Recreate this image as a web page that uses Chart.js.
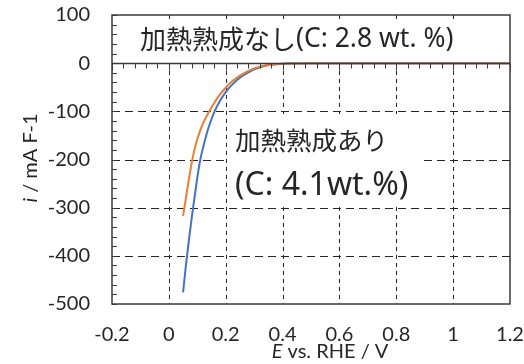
<!DOCTYPE html>
<html>
<head>
<meta charset="utf-8">
<script src="https://cdn.jsdelivr.net/npm/chart.js@4/dist/chart.umd.min.js"></script>
<style>
  html, body { margin: 0; padding: 0; background: #fff; }
  #wrap { width: 524px; height: 364px; }
</style>
</head>
<body>
<div id="wrap"><canvas id="graficoLSV"></canvas></div>
<script>
// potencial (V vs. RHE) e corrente (mA)
const potentials = [0.05, 0.06, 0.07, 0.08, 0.09, 0.10, 0.11, 0.12, 0.14, 0.16, 0.18, 0.20,
  0.22, 0.25, 0.28, 0.30, 0.33, 0.36, 0.40, 0.50, 0.60, 0.80, 1.00, 1.20];
const currentSemAging = [-317, -280, -243, -208, -180, -158, -140, -125, -102, -82, -65, -51,
  -39, -26, -16, -11, -6, -3, -1, 0, 0, 0, 0, 0];
const currentComAging = [-476, -420, -370, -323, -280, -238, -202, -176, -133, -101, -78, -60,
  -46, -30, -19, -13, -7, -3, -1, 0, 0, 0, 0, 0];

const xTicks = [-0.2, 0, 0.2, 0.4, 0.6, 0.8, 1, 1.2];
const yTicks = [-500, -400, -300, -200, -100, 0, 100];
const xGrid = [0, 0.2, 0.4, 0.6, 0.8, 1];
const yGrid = [-100, -200, -300, -400];

const ink = '#262626';
const jp = '"Noto Sans CJK JP", sans-serif';
const noto = '"Noto Sans", sans-serif';
const latin = 'Lato, "Noto Sans", sans-serif';

const toPoints = (ys) => potentials.map((x, i) => ({ x: x, y: ys[i] }));

// escreve partes com fontes diferentes em sequência
function drawRuns(ctx, runs, x, y) {
  runs.forEach(([text, font]) => {
    ctx.font = font;
    ctx.fillText(text, x, y);
    x += ctx.measureText(text).width;
  });
}

// grade tracejada, caixas de texto, moldura e marcas
const decor = {
  id: 'decor',
  beforeDatasetsDraw(chart) {
    const { ctx, chartArea: a, scales: { x, y } } = chart;
    ctx.save();
    ctx.strokeStyle = ink;
    ctx.lineWidth = 1;
    ctx.setLineDash([4, 4]);
    xGrid.forEach(v => {
      const px = Math.round(x.getPixelForValue(v)) + 0.5;
      ctx.beginPath(); ctx.moveTo(px, a.top); ctx.lineTo(px, a.bottom); ctx.stroke();
    });
    ctx.setLineDash([8, 5]);
    yGrid.forEach(v => {
      const py = Math.round(y.getPixelForValue(v)) + 0.5;
      ctx.beginPath(); ctx.moveTo(a.left, py); ctx.lineTo(a.right, py); ctx.stroke();
    });
    ctx.setLineDash([]);

    // caixas brancas por trás dos rótulos
    ctx.fillStyle = '#fff';
    ctx.fillRect(120, 20, 386, 40);
    ctx.fillRect(228, 114, 194, 91);

    ctx.fillStyle = ink;
    ctx.textBaseline = 'middle';
    ctx.textAlign = 'left';
    drawRuns(ctx, [['加熱熟成なし', '26px ' + jp], ['(C: 2.8 wt. %)', '26.5px ' + noto]], 140, 39);
    drawRuns(ctx, [['加熱熟成あり', '25.5px ' + jp]], 235, 140);
    drawRuns(ctx, [['(C: 4.1wt.%)', '32px ' + noto]], 235, 186);
    ctx.restore();
  },
  afterDatasetsDraw(chart) {
    const { ctx, chartArea: a, scales: { x, y } } = chart;
    ctx.save();
    ctx.strokeStyle = '#3a3a3a';
    ctx.lineWidth = 1.5;
    ctx.strokeRect(a.left, a.top, a.right - a.left, a.bottom - a.top);

    const y0 = Math.round(y.getPixelForValue(0)) + 0.5;
    ctx.beginPath(); ctx.moveTo(a.left, y0); ctx.lineTo(a.right, y0); ctx.stroke();

    ctx.lineWidth = 1;
    // marcas do eixo y (a cada 20)
    for (let v = -500; v <= 100; v += 20) {
      const py = Math.round(y.getPixelForValue(v)) + 0.5;
      ctx.beginPath(); ctx.moveTo(a.left, py); ctx.lineTo(a.left + 5, py); ctx.stroke();
    }
    // marcas do eixo x sobre a linha zero (a cada 0.04)
    for (let i = 0; i <= 35; i++) {
      const px = Math.round(x.getPixelForValue(-0.2 + i * 0.04)) + 0.5;
      const len = i % 5 === 0 ? 7 : 5;
      ctx.beginPath(); ctx.moveTo(px, y0); ctx.lineTo(px, y0 + len); ctx.stroke();
    }
    ctx.restore();
  },
  afterDraw(chart) {
    const { ctx } = chart;
    ctx.save();
    ctx.fillStyle = ink;
    ctx.textBaseline = 'middle';
    ctx.textAlign = 'left';
    const italic = 'italic 20px ' + latin;
    const normal = '20px ' + latin;

    // título do eixo x: "E vs. RHE / V"
    ctx.font = italic;
    let w = ctx.measureText('E').width;
    ctx.font = normal;
    w += ctx.measureText(' vs. RHE / V').width;
    drawRuns(ctx, [['E', italic], [' vs. RHE / V', normal]], 330 - w / 2, 352);

    // título do eixo y: "i / mA F-1"
    ctx.translate(31, 158);
    ctx.rotate(-Math.PI / 2);
    ctx.font = italic;
    w = ctx.measureText('i').width;
    ctx.font = normal;
    w += ctx.measureText(' / mA F-1').width;
    drawRuns(ctx, [['i', italic], [' / mA F-1', normal]], -w / 2, 0);
    ctx.restore();
  }
};

const ctxLSV = document.getElementById('graficoLSV').getContext('2d');
new Chart(ctxLSV, {
  type: 'scatter',
  data: {
    datasets: [{
      label: '加熱熟成なし',
      data: toPoints(currentSemAging),
      showLine: true,
      borderColor: '#ED7D31',
      borderWidth: 2,
      pointRadius: 0,
      cubicInterpolationMode: 'monotone'
    }, {
      label: '加熱熟成あり',
      data: toPoints(currentComAging),
      showLine: true,
      borderColor: '#4472C4',
      borderWidth: 2,
      pointRadius: 0,
      cubicInterpolationMode: 'monotone'
    }]
  },
  options: {
    responsive: true,
    maintainAspectRatio: false,
    animation: false,
    layout: { padding: { top: 15, right: 14, left: 0, bottom: 0 } },
    plugins: { legend: { display: false }, tooltip: { enabled: false } },
    scales: {
      x: {
        type: 'linear',
        min: -0.2, max: 1.2,
        afterBuildTicks: (s) => { s.ticks = xTicks.map(v => ({ value: v })); },
        afterFit: (s) => { s.height = 60; },
        // tickLength faz o afastamento dos rótulos sem inflar o padding do layout
        grid: { display: false, drawTicks: true, tickLength: 19 },
        border: { display: false },
        ticks: {
          padding: 0,
          color: ink,
          font: { family: latin, size: 20 },
          callback: (v) => String(Math.round(v * 10) / 10)
        }
      },
      y: {
        type: 'linear',
        min: -500, max: 100,
        afterBuildTicks: (s) => { s.ticks = yTicks.map(v => ({ value: v })); },
        afterFit: (s) => { s.width = 112; },
        grid: { display: false, drawTicks: true, tickLength: 22 },
        border: { display: false },
        ticks: {
          padding: 0,
          color: ink,
          font: { family: latin, size: 20 }
        }
      }
    }
  },
  plugins: [decor]
});
</script>
</body>
</html>
